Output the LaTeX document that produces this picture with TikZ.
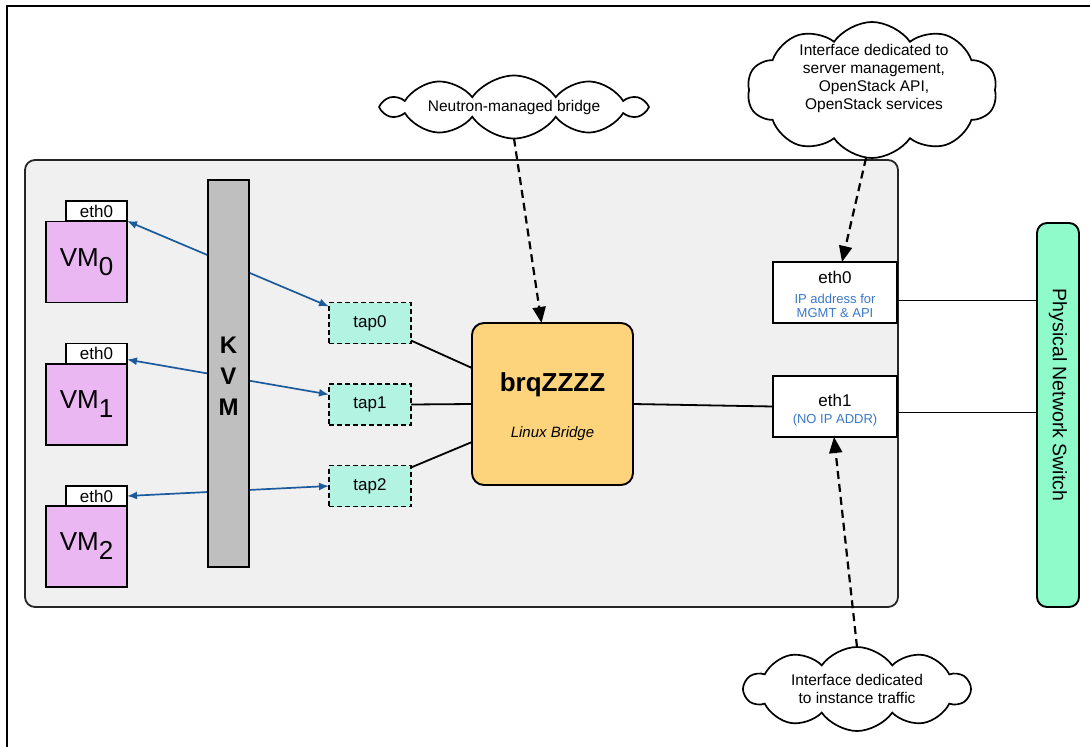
\documentclass[tikz,border=0pt]{standalone}
\usepackage{fontspec}
\setmainfont{Liberation Sans}
\usetikzlibrary{arrows.meta,shapes.symbols}
\definecolor{vmfill}{HTML}{EBB7F3}
\definecolor{tapfill}{HTML}{B3F3E1}
\definecolor{brqfill}{HTML}{FDD47C}
\definecolor{swfill}{HTML}{8FFBCB}
\definecolor{kvmfill}{HTML}{BFBFBF}
\definecolor{hostfill}{HTML}{F0F0F0}
\definecolor{linkblue}{HTML}{1B5A9B}
\definecolor{noteblue}{HTML}{3A78C9}
\begin{document}
\begin{tikzpicture}[x=1pt,y=-1pt,
  every node/.style={inner sep=0pt, outer sep=0pt},
  box/.style={draw=black, line width=1.9pt, rectangle},
  vmbox/.style={box, fill=vmfill, minimum width=81pt, minimum height=81pt, font=\fontsize{26}{26}\selectfont},
  vmtab/.style={box, fill=white, minimum width=61pt, minimum height=20pt, font=\fontsize{17}{17}\selectfont},
  tapbox/.style={box, dash pattern=on 5pt off 3pt, fill=tapfill, minimum width=82pt, minimum height=41pt, font=\fontsize{17}{17}\selectfont},
  hostif/.style={box, fill=white, minimum width=124pt, minimum height=61pt},
  bigtxt/.style={font=\fontsize{17}{17}\selectfont, anchor=base},
  smalltxt/.style={font=\fontsize{13}{13}\selectfont, text=noteblue, anchor=base},
  link/.style={draw=linkblue, line width=1.7pt, arrows={Latex[length=10pt,width=8pt]-Latex[length=10pt,width=8pt]}},
  wire/.style={draw=black, line width=1.8pt},
  notecloud/.style={cloud, draw=black, line width=1.7pt, fill=white, cloud ignores aspect, cloud puffs=10, cloud puff arc=110},
  notetext/.style={align=center, font=\fontsize{15.5}{18}\selectfont},
  notearrow/.style={draw=black, line width=2.2pt, dash pattern=on 8pt off 5pt, -{Triangle[length=16pt,width=13pt]}}
]
\useasboundingbox (0,0) rectangle (1090,747);
% outer frame
\draw[line width=2.5pt] (7,747) -- (7,6) -- (1090,6);

% host container
\node[draw=black!85, line width=1.8pt, fill=hostfill, rounded corners=10pt, minimum width=873pt, minimum height=447pt] (host) at (461.5,383.5) {};

% VMs
\node[vmbox] (vm0) at (86.5,262) {VM\raisebox{-9pt}{0}};
\node[vmtab] (e0) at (96.5,211) {eth0};
\node[vmbox] (vm1) at (86.5,404.5) {VM\raisebox{-9pt}{1}};
\node[vmtab] (e1) at (96.5,353.5) {eth0};
\node[vmbox] (vm2) at (86.5,546.5) {VM\raisebox{-9pt}{2}};
\node[vmtab] (e2) at (96.5,496) {eth0};

% taps
\node[tapbox] (tap0) at (370,323) {tap0};
\node[tapbox] (tap1) at (370,404.5) {tap1};
\node[tapbox] (tap2) at (370,486) {tap2};

% blue links (behind KVM)
\draw[link] (e0.south east) -- ([yshift=-4pt]tap0.north west);
\draw[link] ([yshift=4pt]e1.south east) -- ([yshift=10pt]tap1.west);
\draw[link] (e2.east) -- (tap2.west);

% KVM
\node[box, fill=kvmfill, minimum width=41pt, minimum height=387pt] (kvm) at (228.5,373.5) {};
\node[align=center, font=\fontsize{24}{31}\bfseries\selectfont] (kvmtxt) at (228.5,376) {K\\V\\M};

% bridge
\node[box, fill=brqfill, rounded corners=12pt, minimum width=161pt, minimum height=162pt] (brq) at (552.5,404) {};
\node[anchor=base, font=\fontsize{26}{26}\bfseries\selectfont] (brqtxt) at (552.5,391) {brqZZZZ};
\node[anchor=base, font=\fontsize{15}{15}\itshape\selectfont] (brqsub) at (552.5,437) {Linux Bridge};

% tap to bridge wires
\draw[wire] ([yshift=3pt]tap0.south east) -- ([yshift=-45pt]brq.north west);
\draw[wire] (tap1.east) -- (brq.west);
\draw[wire] ([yshift=-2pt]tap2.north east) -- ([yshift=43pt]brq.south west);

% host interfaces
\node[hostif] (eth0h) at (835,292.5) {};
\node[bigtxt] (eth0t) at (835,283) {eth0};
\node[smalltxt] (eth0a) at (835,303) {IP address for};
\node[smalltxt] (eth0b) at (835,317) {MGMT \& API};
\node[hostif] (eth1h) at (835,406.5) {};
\node[bigtxt] (eth1t) at (835,406) {eth1};
\node[smalltxt] (eth1a) at (835,423) {(NO IP ADDR)};

% switch
\node[box, fill=swfill, rounded corners=10pt, minimum width=42pt, minimum height=384pt] (sw) at (1058,415) {};
\node[rotate=-90, font=\fontsize{19.5}{19.5}\selectfont] (swtxt) at (1058,395) {Physical Network Switch};

\draw[wire] (brq.east) -- (eth1h.west);
\draw[wire] ([yshift=-8pt]eth0h.east) -- ([yshift=-8pt]eth0h.east -| sw.west);
\draw[wire] ([yshift=-6pt]eth1h.east) -- ([yshift=-6pt]eth1h.east -| sw.west);

% clouds
\node[notecloud, minimum width=260pt, minimum height=63pt] (c1) at (514,107) {};
\node[notetext] (c1t) at (514,107) {Neutron-managed bridge};
\node[notecloud, minimum width=250pt, minimum height=136pt] (c2) at (872,90) {};
\node[notetext] (c2t) at (874,78) {Interface dedicated to\\server management,\\OpenStack API,\\OpenStack services};
\node[notecloud, minimum width=225pt, minimum height=84pt] (c3) at (857,689) {};
\node[notetext] (c3t) at (857,689) {Interface dedicated\\to instance traffic};

% note arrows
\draw[notearrow] (c1.south) -- ([xshift=-11pt]brq.north);
\draw[notearrow] ([xshift=-6pt]c2.south) -- ([xshift=7pt]eth0h.north);
\draw[notearrow] (c3.north) -- ([xshift=-1pt]eth1h.south);
\end{tikzpicture}
\end{document}
